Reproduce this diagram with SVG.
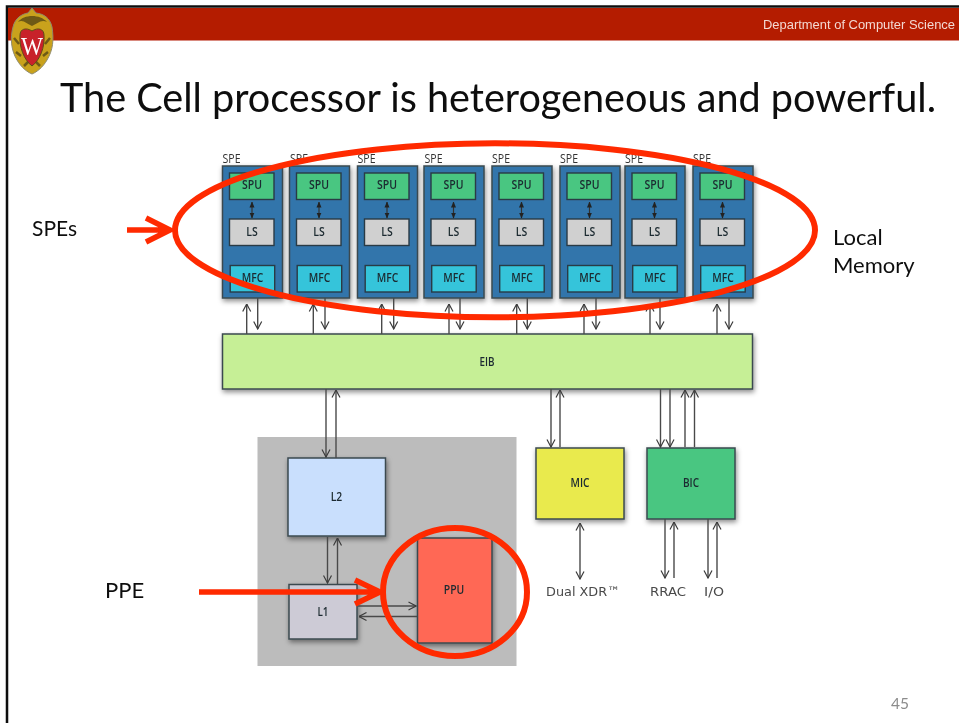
<svg xmlns="http://www.w3.org/2000/svg" xmlns:xlink="http://www.w3.org/1999/xlink" width="959" height="723" viewBox="0 0 959 723">
<defs>
<style>
.b{stroke:#3b4a4f;stroke-width:1.5;filter:url(#sh)}
.c{stroke:#2a3a45;stroke-width:1.4}
.n{font-family:"Open Sans","Noto Sans",sans-serif;font-size:13px;text-anchor:middle;fill:#1c2a30;font-weight:600}
.s{font-family:"Open Sans",sans-serif;font-size:12px;fill:#333}
.l{font-family:"Lato","Carlito",sans-serif;font-size:22px;fill:#111}
.e{font-family:"DejaVu Sans",sans-serif;font-size:13px;fill:#4a4a4a}
.a{stroke:#4a4a4a;stroke-width:1.4;fill:none;marker-end:url(#ar)}
.a2{stroke:#4a4a4a;stroke-width:1.4;fill:none;marker-end:url(#ar);marker-start:url(#ars)}
.d{stroke:#333;stroke-width:1.2;fill:none;marker-end:url(#ar2);marker-start:url(#ar2s)}
.r{fill:none;stroke:#ff2a00;stroke-width:6}
.ra{fill:none;stroke:#ff2a00;stroke-width:5.5;stroke-linejoin:miter}
</style>
<filter id="sh" x="-15%" y="-15%" width="130%" height="130%"><feDropShadow dx="1" dy="2.5" stdDeviation="2.5" flood-color="#000" flood-opacity=".45"/></filter>
<filter id="soft" filterUnits="userSpaceOnUse" x="0" y="0" width="959" height="723"><feGaussianBlur stdDeviation=".4"/></filter>
<marker id="ar" viewBox="0 0 10 10" refX="9.500" refY="5" markerWidth="10" markerHeight="10" markerUnits="userSpaceOnUse" orient="auto"><path d="M2 1 L9.500 5 L2 9" fill="none" stroke="#3c3c3c" stroke-width="1.2"/></marker>
<marker id="ars" viewBox="0 0 10 10" refX=".5" refY="5" markerWidth="10" markerHeight="10" markerUnits="userSpaceOnUse" orient="auto"><path d="M8 1 L.5 5 L8 9" fill="none" stroke="#3c3c3c" stroke-width="1.2"/></marker>
<marker id="ar2" viewBox="0 0 6 6" refX="5.500" refY="3" markerWidth="6" markerHeight="6" markerUnits="userSpaceOnUse" orient="auto"><path d="M0 .5 L6 3 L0 5.500Z" fill="#222"/></marker>
<marker id="ar2s" viewBox="0 0 6 6" refX=".5" refY="3" markerWidth="6" markerHeight="6" markerUnits="userSpaceOnUse" orient="auto"><path d="M6 .5 L0 3 L6 5.500Z" fill="#222"/></marker>
<g id="spe">
<rect class="b" x="0" y="0" width="60" height="132" fill="#3374ab"/>
<rect class="c" x="7" y="7" width="44.500" height="26.500" fill="#48c681"/>
<rect class="c" x="7" y="53" width="44.500" height="26.500" fill="#d0d0d0"/>
<rect class="c" x="7.700" y="99.500" width="44.500" height="26.500" fill="#35c4da"/>
<path class="d" d="M29.500 36V52"/>
<text class="n" x="29.500" y="23" textLength="20" lengthAdjust="spacingAndGlyphs">SPU</text>
<text class="n" x="29.500" y="69.500" textLength="11.500" lengthAdjust="spacingAndGlyphs">LS</text>
<text class="n" x="30" y="115.500" textLength="21.500" lengthAdjust="spacingAndGlyphs">MFC</text>
</g>
</defs>
<rect id="background" width="959" height="723" fill="#fff"/>
<g id="slide-frame" filter="url(#soft)">
<path d="M7 723V6.500H959" fill="none" stroke="#111" stroke-width="2.500"/>
<rect x="8" y="8" width="951" height="32.500" fill="#b41b00"/>
<text x="763" y="29" font-family="Liberation Sans, Arial, sans-serif" font-size="12.800px" fill="#f3d9d2" textLength="192" lengthAdjust="spacingAndGlyphs">Department of Computer Science</text>
</g>
<g id="crest" filter="url(#soft)">
<path d="M32 8 L36 13 C44 14 50 18 52 27 C54 40 53 50 47 60 C43 67 37 72 32 74 C27 72 21 67 17 60 C11 50 10 38 13 27 C15 18 22 14 28 13Z" fill="#c9a21c" stroke="#8f8a6c" stroke-width="1"/>
<path d="M18 22 C24 14 40 14 47 22 C41 19 37 24 32 26 C27 24 23 19 18 22Z" fill="#6e5a12"/>
<path d="M14 38 L19 44 M50 38 L45 44 M16 52 L21 56 M48 52 L43 56 M24 66 L28 62 M40 66 L36 62" stroke="#6e5a12" stroke-width="2.500"/>
<path d="M20 35 C20 29 26 27 32 31 C38 27 44 29 44 35 C45 47 40 60 32 66 C24 60 19 47 20 35Z" fill="#c8202c" stroke="#5e4e18" stroke-width="1"/>
<text x="32" y="55" font-family="Liberation Serif, serif" font-size="25px" fill="#fff" text-anchor="middle" textLength="22" lengthAdjust="spacingAndGlyphs">W</text>
</g>
<text id="title" x="60" y="112" font-family="Lato, Carlito, sans-serif" font-size="40px" fill="#0a0a0a" textLength="876" lengthAdjust="spacingAndGlyphs" filter="url(#soft)">The Cell processor is heterogeneous and powerful.</text>
<g filter="url(#soft)">
<text id="label-spes" class="l" x="32" y="236" textLength="45" lengthAdjust="spacingAndGlyphs">SPEs</text>
<text id="label-local-memory" class="l"><tspan x="833" y="245">Local</tspan><tspan x="833" y="273">Memory</tspan></text>
<text id="label-ppe" class="l" x="105" y="598">PPE</text>
<text id="page-number" x="891" y="709" font-family="Lato, sans-serif" font-size="15.500px" fill="#8c8c8c">45</text>
<g id="spe-labels">
<text class="s" x="222.500" y="163" textLength="18" lengthAdjust="spacingAndGlyphs">SPE</text><text class="s" x="290" y="163" textLength="18" lengthAdjust="spacingAndGlyphs">SPE</text><text class="s" x="357.500" y="163" textLength="18" lengthAdjust="spacingAndGlyphs">SPE</text><text class="s" x="424.500" y="163" textLength="18" lengthAdjust="spacingAndGlyphs">SPE</text><text class="s" x="492" y="163" textLength="18" lengthAdjust="spacingAndGlyphs">SPE</text><text class="s" x="560" y="163" textLength="18" lengthAdjust="spacingAndGlyphs">SPE</text><text class="s" x="625" y="163" textLength="18" lengthAdjust="spacingAndGlyphs">SPE</text><text class="s" x="693" y="163" textLength="18" lengthAdjust="spacingAndGlyphs">SPE</text>
</g>
<g id="spe1"><use xlink:href="#spe" href="#spe" x="222.500" y="166"/></g>
<g id="spe2"><use xlink:href="#spe" href="#spe" x="289.500" y="166"/></g>
<g id="spe3"><use xlink:href="#spe" href="#spe" x="357.500" y="166"/></g>
<g id="spe4"><use xlink:href="#spe" href="#spe" x="424" y="166"/></g>
<g id="spe5"><use xlink:href="#spe" href="#spe" x="492" y="166"/></g>
<g id="spe6"><use xlink:href="#spe" href="#spe" x="560" y="166"/></g>
<g id="spe7"><use xlink:href="#spe" href="#spe" x="625" y="166"/></g>
<g id="spe8"><use xlink:href="#spe" href="#spe" x="693" y="166"/></g>
<g id="eib"><rect class="b" x="222.500" y="334" width="530" height="55" fill="#c6ef96"/><text class="n" x="487" y="366" textLength="15" lengthAdjust="spacingAndGlyphs">EIB</text></g>
<g id="ppe"><rect x="257.500" y="437" width="259" height="229" fill="#bcbcbc"/></g>
<g id="l2"><rect class="b" x="288" y="458" width="97.500" height="78" fill="#c9dffd"/><text class="n" x="336.500" y="501" textLength="11.500" lengthAdjust="spacingAndGlyphs">L2</text></g>
<g id="l1"><rect class="b" x="289" y="584.500" width="68" height="54.500" fill="#cdcbd6"/><text class="n" x="323" y="616" textLength="11" lengthAdjust="spacingAndGlyphs">L1</text></g>
<g id="ppu"><rect class="b" x="417.500" y="538" width="74.500" height="105" fill="#ff6854"/><text class="n" x="454" y="594" textLength="20.500" lengthAdjust="spacingAndGlyphs">PPU</text></g>
<g id="mic"><rect class="b" x="536" y="448" width="88" height="71" fill="#e9ea4e"/><text class="n" x="580" y="487" textLength="19" lengthAdjust="spacingAndGlyphs">MIC</text></g>
<g id="bic"><rect class="b" x="647" y="448" width="88" height="71" fill="#48c681"/><text class="n" x="691" y="487" textLength="16" lengthAdjust="spacingAndGlyphs">BIC</text></g>
<g id="connectors">
<path class="a" d="M246.700 334V304"/><path class="a" d="M257.700 298V329"/>
<path class="a" d="M313.300 334V304"/><path class="a" d="M325 298V329"/>
<path class="a" d="M381.700 334V304"/><path class="a" d="M393.700 298V329"/>
<path class="a" d="M449 334V304"/><path class="a" d="M460 298V329"/>
<path class="a" d="M516.700 334V304"/><path class="a" d="M527.300 298V329"/>
<path class="a" d="M584 334V304"/><path class="a" d="M596 298V329"/>
<path class="a" d="M650 334V304"/><path class="a" d="M660 298V329"/>
<path class="a" d="M717 334V304"/><path class="a" d="M729 298V329"/>
<path class="a" d="M326 389V457"/><path class="a" d="M336 458V390"/>
<path class="a" d="M327.500 537V583"/><path class="a" d="M337.500 584V538"/>
<path class="a" d="M358 606H416"/><path class="a" d="M417 616.500H359"/>
<path class="a" d="M551 389V447"/><path class="a" d="M560 447V390"/>
<path class="a" d="M660.500 389V447"/><path class="a" d="M670 389V447"/>
<path class="a" d="M685 447V390"/><path class="a" d="M694.500 447V390"/>
<path class="a2" d="M580 523V579"/>
<path class="a" d="M665 519V578"/><path class="a" d="M674 578V522"/>
<path class="a" d="M708 519V578"/><path class="a" d="M717 578V522"/>
</g>
<g id="io-labels">
<text class="e" x="546" y="596" textLength="74" lengthAdjust="spacingAndGlyphs">Dual XDR™</text>
<text class="e" x="650" y="596" textLength="36" lengthAdjust="spacingAndGlyphs">RRAC</text>
<text class="e" x="704" y="596" textLength="20" lengthAdjust="spacingAndGlyphs">I/O</text>
</g>
<g id="annotations">
<ellipse class="r" cx="495" cy="230.300" rx="320" ry="87"/>
<ellipse class="r" cx="455" cy="592" rx="72" ry="64"/>
<path class="ra" d="M127 230H168M146 218L170 230L146 242"/>
<path class="ra" d="M199 592H378M355 580L380 592L355 604"/>
</g>
</g>
</svg>
